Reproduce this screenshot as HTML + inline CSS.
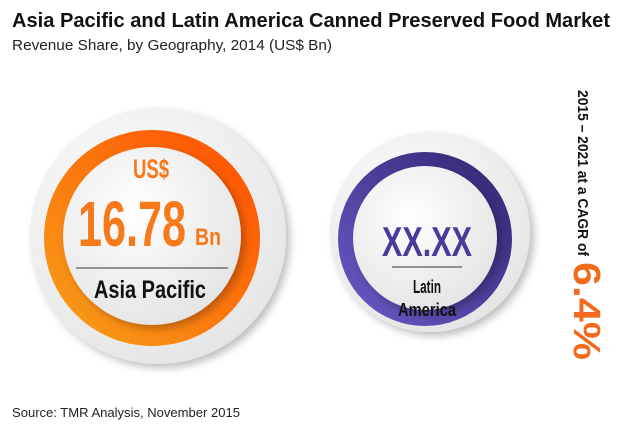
<!DOCTYPE html>
<html><head><meta charset="utf-8"><style>
html,body{margin:0;padding:0;background:#fff;}
svg{display:block;font-family:"Liberation Sans",sans-serif;}
</style></head><body>
<svg width="620" height="434" viewBox="0 0 620 434">
<defs>
<linearGradient id="og" x1="0" y1="1" x2="1" y2="0">
<stop offset="0" stop-color="#f7a11a"/><stop offset="1" stop-color="#ff4d00"/></linearGradient>
<linearGradient id="pg" x1="0" y1="1" x2="1" y2="0">
<stop offset="0" stop-color="#6a5cc9"/><stop offset="1" stop-color="#2f2470"/></linearGradient>
<radialGradient id="wg" cx="0.4" cy="0.35" r="0.7">
<stop offset="0" stop-color="#ffffff"/><stop offset="1" stop-color="#e4e4e4"/></radialGradient>
<filter id="sh" x="-20%" y="-20%" width="140%" height="140%"><feDropShadow dx="4" dy="4" stdDeviation="4" flood-color="#000" flood-opacity="0.25"/></filter>
</defs>
<text x="12" y="27" font-size="20" font-weight="bold" fill="#111" textLength="598" lengthAdjust="spacingAndGlyphs">Asia Pacific and Latin America Canned Preserved Food Market</text>
<text x="12" y="50" font-size="15" fill="#222" textLength="320" lengthAdjust="spacingAndGlyphs">Revenue Share, by Geography, 2014 (US$ Bn)</text>

<g>
<circle cx="158" cy="236" r="128" fill="url(#wg)" filter="url(#sh)"/>
<circle cx="152" cy="238" r="108" fill="url(#og)"/>
<circle cx="152" cy="236" r="89" fill="url(#wg)" filter="url(#sh)"/>
<text x="151" y="178" font-size="27" font-weight="bold" fill="#f7791a" text-anchor="middle" textLength="36" lengthAdjust="spacingAndGlyphs">US$</text>
<text x="132" y="246" font-size="64" font-weight="bold" fill="#f7791a" text-anchor="middle" textLength="108" lengthAdjust="spacingAndGlyphs">16.78</text>
<text x="208" y="245" font-size="24" font-weight="bold" fill="#f7791a" text-anchor="middle" textLength="26" lengthAdjust="spacingAndGlyphs">Bn</text>
<line x1="76" y1="268" x2="228" y2="268" stroke="#333" stroke-width="1"/>
<text x="150" y="298" font-size="25" font-weight="bold" fill="#111" text-anchor="middle" textLength="112" lengthAdjust="spacingAndGlyphs">Asia Pacific</text>
</g>

<g>
<circle cx="430" cy="232" r="100" fill="url(#wg)" filter="url(#sh)"/>
<circle cx="425" cy="239" r="87" fill="url(#pg)"/>
<circle cx="425" cy="238" r="72" fill="url(#wg)" filter="url(#sh)"/>
<text x="427" y="256" font-size="42" font-weight="bold" fill="#4b3a9a" text-anchor="middle" textLength="90" lengthAdjust="spacingAndGlyphs">XX.XX</text>
<line x1="392" y1="267" x2="462" y2="267" stroke="#333" stroke-width="1"/>
<text x="427" y="293" font-size="18" font-weight="bold" fill="#111" text-anchor="middle" textLength="28" lengthAdjust="spacingAndGlyphs">Latin</text>
<text x="427" y="316" font-size="18" font-weight="bold" fill="#111" text-anchor="middle" textLength="58" lengthAdjust="spacingAndGlyphs">America</text>
</g>

<g transform="translate(578 90) rotate(90)">
<text x="0" y="0" font-size="15" font-weight="bold" fill="#111" textLength="166" lengthAdjust="spacingAndGlyphs">2015 – 2021 at a CAGR of</text>
<text x="172" y="4" font-size="38" font-weight="bold" fill="#f26a1b" textLength="98" lengthAdjust="spacingAndGlyphs">6.4%</text>
</g>

<text x="12" y="417" font-size="13" fill="#222" textLength="228" lengthAdjust="spacingAndGlyphs">Source: TMR Analysis, November 2015</text>
</svg>
</body></html>
